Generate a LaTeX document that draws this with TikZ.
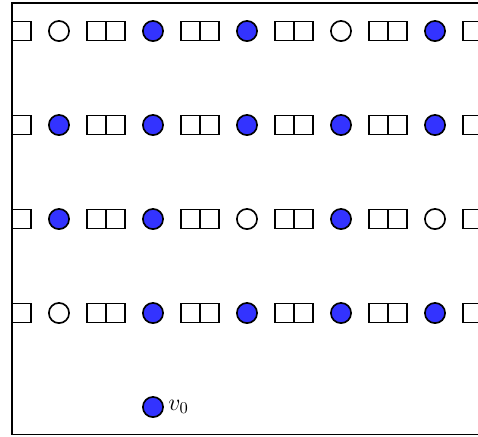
\documentclass[tikz,border=0pt]{standalone}
\usepackage{amsmath,amssymb}
\usepackage{xcolor}
\usetikzlibrary{positioning}

\colorlet{occ}{blue!80}
\colorlet{free}{white}

\begin{document}
\begin{tikzpicture}[x=1cm, y=1cm, line width=1pt]
\tikzset{
  site/.style={circle, draw, minimum size=0.43cm, inner sep=0pt},
  cell/.style={draw, fill=white, minimum size=0.404cm, inner sep=0pt}
}
\clip (-0.255,0) rectangle (9.915,9.277);
\begin{scope}
\clip (0,0.03) rectangle (11,9.21);
% double cells between the sites
\foreach \r in {1,...,4} {
  \foreach \c in {0,2,...,10} {
    \node[cell] (l-\r-\c) at (\c-0.202,0.617+2*\r) {};
    \node[cell] (r-\r-\c) at (\c+0.202,0.617+2*\r) {};
  }
}
% sites, row by row
\foreach \r/\states in {4/{free,occ,occ,free,occ}, 3/{occ,occ,occ,occ,occ},
                         2/{occ,occ,free,occ,free}, 1/{free,occ,occ,occ,occ}} {
  \foreach \s [count=\k] in \states {
    \node[site, fill=\s] (v-\r-\k) at (2*\k-1,0.617+2*\r) {};
  }
}
\node[site, fill=occ] (v0) at (3,0.617) {};
\node[right=0.04cm of v0, inner sep=1pt, font=\Large] (v0label) {$v_0$};
\end{scope}
\draw (11,0.03) -- (0,0.03) -- (0,9.21) -- (11,9.21);
\end{tikzpicture}
\end{document}
